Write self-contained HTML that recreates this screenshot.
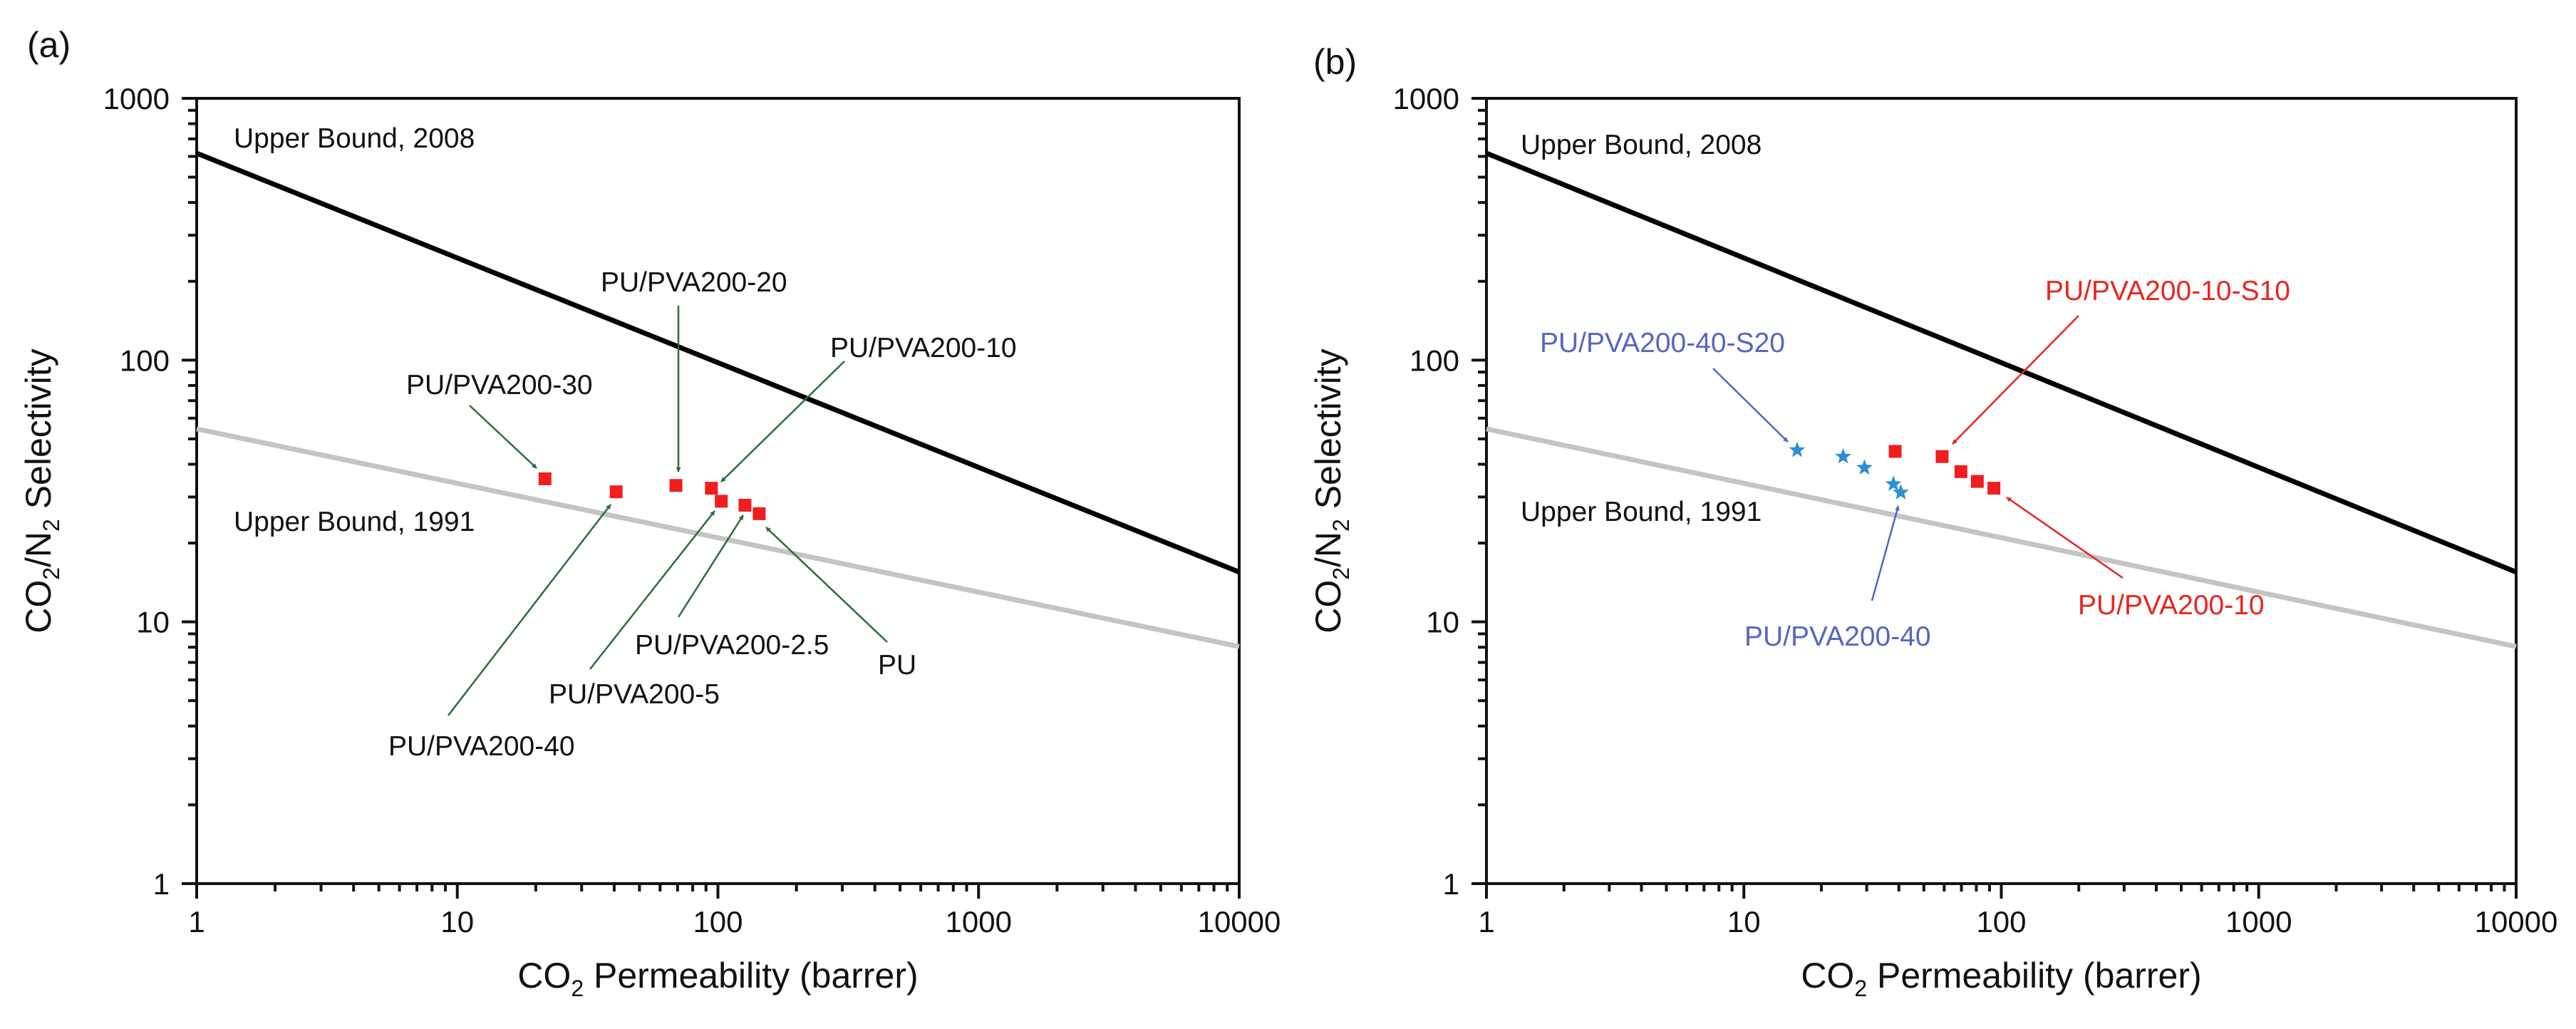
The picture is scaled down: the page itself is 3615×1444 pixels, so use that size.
<!DOCTYPE html>
<html><head><meta charset="utf-8"><style>
html,body{margin:0;padding:0;background:#fff;}
svg{display:block;font-family:"Liberation Sans",Arial,sans-serif;}
</style></head><body>
<svg id="fig" width="3615" height="1444" viewBox="0 0 3615 1444" xmlns="http://www.w3.org/2000/svg">
<defs>
<marker id="ahG" viewBox="0 0 10 10" refX="9" refY="5" markerWidth="7" markerHeight="7" orient="auto" markerUnits="userSpaceOnUse"><path d="M0,0 L10,5 L0,10 z" fill="#2e6b3e"/></marker>
<marker id="ahR" viewBox="0 0 10 10" refX="9" refY="5" markerWidth="7" markerHeight="7" orient="auto" markerUnits="userSpaceOnUse"><path d="M0,0 L10,5 L0,10 z" fill="#e8251e"/></marker>
<marker id="ahB" viewBox="0 0 10 10" refX="9" refY="5" markerWidth="7" markerHeight="7" orient="auto" markerUnits="userSpaceOnUse"><path d="M0,0 L10,5 L0,10 z" fill="#5566c0"/></marker>
</defs>
</svg>
<script>
// ---- data ----
const boundXs = [1, 10000];
const bound2008 = [617, 15.5];
const bound1991 = [54.6, 8.05];
const aPerm = [21.7, 40.7, 69, 94.4, 103, 127, 144];
const aSel  = [35.2, 31.4, 33.2, 32.4, 28.9, 27.9, 25.9];
const bStarPerm = [16.1, 24.3, 29.4, 38.1, 40.7];
const bStarSel  = [45.3, 42.8, 38.8, 33.6, 31.2];
const bSqPerm = [38.7, 58.9, 69.7, 80.7, 93.6];
const bSqSel  = [44.8, 42.8, 37.5, 34.4, 32.4];
const xTickVals = [1, 10, 100, 1000, 10000];
const xTickLabels = ["1", "10", "100", "1000", "10000"];
const yTickVals = [1, 10, 100, 1000];
const yTickLabels = ["1", "10", "100", "1000"];

const NS = "http://www.w3.org/2000/svg";
const svg = document.getElementById('fig');
function mk(tag, attrs, parent) {
  const e = document.createElementNS(NS, tag);
  for (const k in attrs) e.setAttribute(k, attrs[k]);
  (parent || svg).appendChild(e);
  return e;
}
const Y0 = 138, Y1 = 1240;

function panel(id, x0, x1) {
  const g = mk('g', {});
  
  
  const sx = v => x0 + (Math.log10(v) - 0) / 4 * (x1 - x0);
  const sy = v => Y1 - (Math.log10(v)) / 3 * (Y1 - Y0);
  // frame
  const fr = mk('rect', {x: x0, y: Y0, width: x1 - x0, height: Y1 - Y0, fill: 'none', stroke: '#111', 'stroke-width': 4}, g);
  
  
  // x ticks
  for (let d = 0; d < 4; d++) {
    for (let m = 2; m <= 9; m++) {
      const v = Math.pow(10, d) * m;
      const t = mk('line', {x1: sx(v), x2: sx(v), y1: Y1, y2: Y1 + 11, stroke: '#111', 'stroke-width': 4}, g);
      
      
    }
  }
  xTickVals.forEach((v, i) => {
    const t = mk('line', {x1: sx(v), x2: sx(v), y1: Y1, y2: Y1 + 21, stroke: '#111', 'stroke-width': 4}, g);
    
    
    const l = mk('text', {x: sx(v), y: 1308, 'font-size': 42, 'text-anchor': 'middle', fill: '#111'}, g);
    l.textContent = xTickLabels[i];
    
    
  });
  for (let d = 0; d < 3; d++) {
    for (let m = 2; m <= 9; m++) {
      const v = Math.pow(10, d) * m;
      const t = mk('line', {x1: x0 - 12, x2: x0, y1: sy(v), y2: sy(v), stroke: '#111', 'stroke-width': 4}, g);
      
      
    }
  }
  yTickVals.forEach((v, i) => {
    const t = mk('line', {x1: x0 - 21, x2: x0, y1: sy(v), y2: sy(v), stroke: '#111', 'stroke-width': 4}, g);
    
    
    const l = mk('text', {x: x0 - 38, y: sy(v) + 15, 'font-size': 42, 'text-anchor': 'end', fill: '#111'}, g);
    l.textContent = yTickLabels[i];
    
    
  });
  // bounds
  const l91 = mk('line', {x1: sx(boundXs[0]), y1: sy(bound1991[0]), x2: sx(boundXs[1]), y2: sy(bound1991[1]), stroke: '#c4c4c4', 'stroke-width': 7}, g);
  
  
  const l08 = mk('line', {x1: sx(boundXs[0]), y1: sy(bound2008[0]), x2: sx(boundXs[1]), y2: sy(bound2008[1]), stroke: '#000', 'stroke-width': 7}, g);
  
  
  // axis titles
  const xt = mk('text', {x: (x0 + x1) / 2, y: 1386, 'font-size': 50, 'text-anchor': 'middle', fill: '#111'}, g);
  xt.innerHTML = 'CO<tspan font-size="32" dy="12">2</tspan><tspan dy="-12"> Permeability (barrer)</tspan>';
  
  
  const yx = x0 - 205, yy = (Y0 + Y1) / 2;
  const yt = mk('text', {x: yx, y: yy, 'font-size': 50, 'text-anchor': 'middle', fill: '#111', transform: `rotate(-90 ${yx} ${yy})`}, g);
  yt.innerHTML = 'CO<tspan font-size="32" dy="12">2</tspan><tspan dy="-12">/N</tspan><tspan font-size="32" dy="12">2</tspan><tspan dy="-12"> Selectivity</tspan>';
  
  
  return {g, sx, sy};
}

function label(g, x, y, txt, color, name) {
  const t = mk('text', {x: x, y: y + 14, 'font-size': 39, fill: color}, g);
  t.textContent = txt;
  
  
}
function arrow(g, x1, y1, x2, y2, color, mid, name) {
  const a = mk('line', {x1, y1, x2, y2, stroke: color, 'stroke-width': 2.5, 'marker-end': `url(#${mid})`}, g);
  
  
}
function square(g, x, y, name) {
  const r = mk('rect', {x: x - 9, y: y - 9, width: 18, height: 18, fill: '#f01e1e'}, g);
  
  
}
function star(g, x, y, name) {
  let p = '';
  for (let i = 0; i < 10; i++) {
    const r = i % 2 ? 5 : 12, a = -Math.PI / 2 + i * Math.PI / 5;
    p += (i ? 'L' : 'M') + (x + r * Math.cos(a)).toFixed(1) + ',' + (y + r * Math.sin(a)).toFixed(1);
  }
  const s = mk('path', {d: p + 'Z', fill: '#2a8fd4'}, g);
  
  
}

// ---- panel a ----
const A = panel('a', 276, 1739);
const la = mk('text', {x: 38, y: 80, 'font-size': 50, fill: '#111'});
la.textContent = '(a)';


label(A.g, 328, 193, 'Upper Bound, 2008', '#111', 'upper-bound-2008-label');
label(A.g, 328, 731, 'Upper Bound, 1991', '#111', 'upper-bound-1991-label');
const G = '#2e6b3e';
arrow(A.g, 952, 429, 952, 662, G, 'ahG', 'arrow-pva200-20');
arrow(A.g, 1185, 507, 1012, 676, G, 'ahG', 'arrow-pva200-10');
arrow(A.g, 659, 569, 753, 657, G, 'ahG', 'arrow-pva200-30');
arrow(A.g, 629, 1004, 857, 708, G, 'ahG', 'arrow-pva200-40');
arrow(A.g, 828, 939, 1003, 717, G, 'ahG', 'arrow-pva200-5');
arrow(A.g, 952, 866, 1043, 723, G, 'ahG', 'arrow-pva200-2-5');
arrow(A.g, 1245, 901, 1075, 740, G, 'ahG', 'arrow-pu');
aPerm.forEach((v, i) => square(A.g, A.sx(v), A.sy(aSel[i]), 'data-point-a'));
label(A.g, 843, 395, 'PU/PVA200-20', '#111', 'label-pva200-20');
label(A.g, 1165, 487, 'PU/PVA200-10', '#111', 'label-pva200-10');
label(A.g, 570, 539, 'PU/PVA200-30', '#111', 'label-pva200-30');
label(A.g, 891, 904, 'PU/PVA200-2.5', '#111', 'label-pva200-2-5');
label(A.g, 1232, 932, 'PU', '#111', 'label-pu');
label(A.g, 770, 973, 'PU/PVA200-5', '#111', 'label-pva200-5');
label(A.g, 545, 1046, 'PU/PVA200-40', '#111', 'label-pva200-40');

// ---- panel b ----
const B = panel('b', 2086, 3531);
const lb = mk('text', {x: 1843, y: 104, 'font-size': 50, fill: '#111'});
lb.textContent = '(b)';


label(B.g, 2134, 202, 'Upper Bound, 2008', '#111', 'upper-bound-2008-label');
label(B.g, 2134, 717, 'Upper Bound, 1991', '#111', 'upper-bound-1991-label');
const R = '#e8251e', BL = '#5566c0';
arrow(B.g, 2917, 443, 2740, 623, R, 'ahR', 'arrow-pva200-10-s10');
arrow(B.g, 2404, 517, 2509, 620, BL, 'ahB', 'arrow-pva200-40-s20');
arrow(B.g, 2627, 843, 2664, 710, BL, 'ahB', 'arrow-pva200-40');
arrow(B.g, 2979, 811, 2816, 698, R, 'ahR', 'arrow-pva200-10');
bSqPerm.forEach((v, i) => square(B.g, B.sx(v), B.sy(bSqSel[i]), 'data-point-square'));
bStarPerm.forEach((v, i) => star(B.g, B.sx(v), B.sy(bStarSel[i]), 'data-point-star'));
label(B.g, 2870, 407, 'PU/PVA200-10-S10', R, 'label-pva200-10-s10');
label(B.g, 2161, 480, 'PU/PVA200-40-S20', BL, 'label-pva200-40-s20');
label(B.g, 2448, 892, 'PU/PVA200-40', BL, 'label-pva200-40');
label(B.g, 2916, 848, 'PU/PVA200-10', R, 'label-pva200-10');
</script>
</body></html>
